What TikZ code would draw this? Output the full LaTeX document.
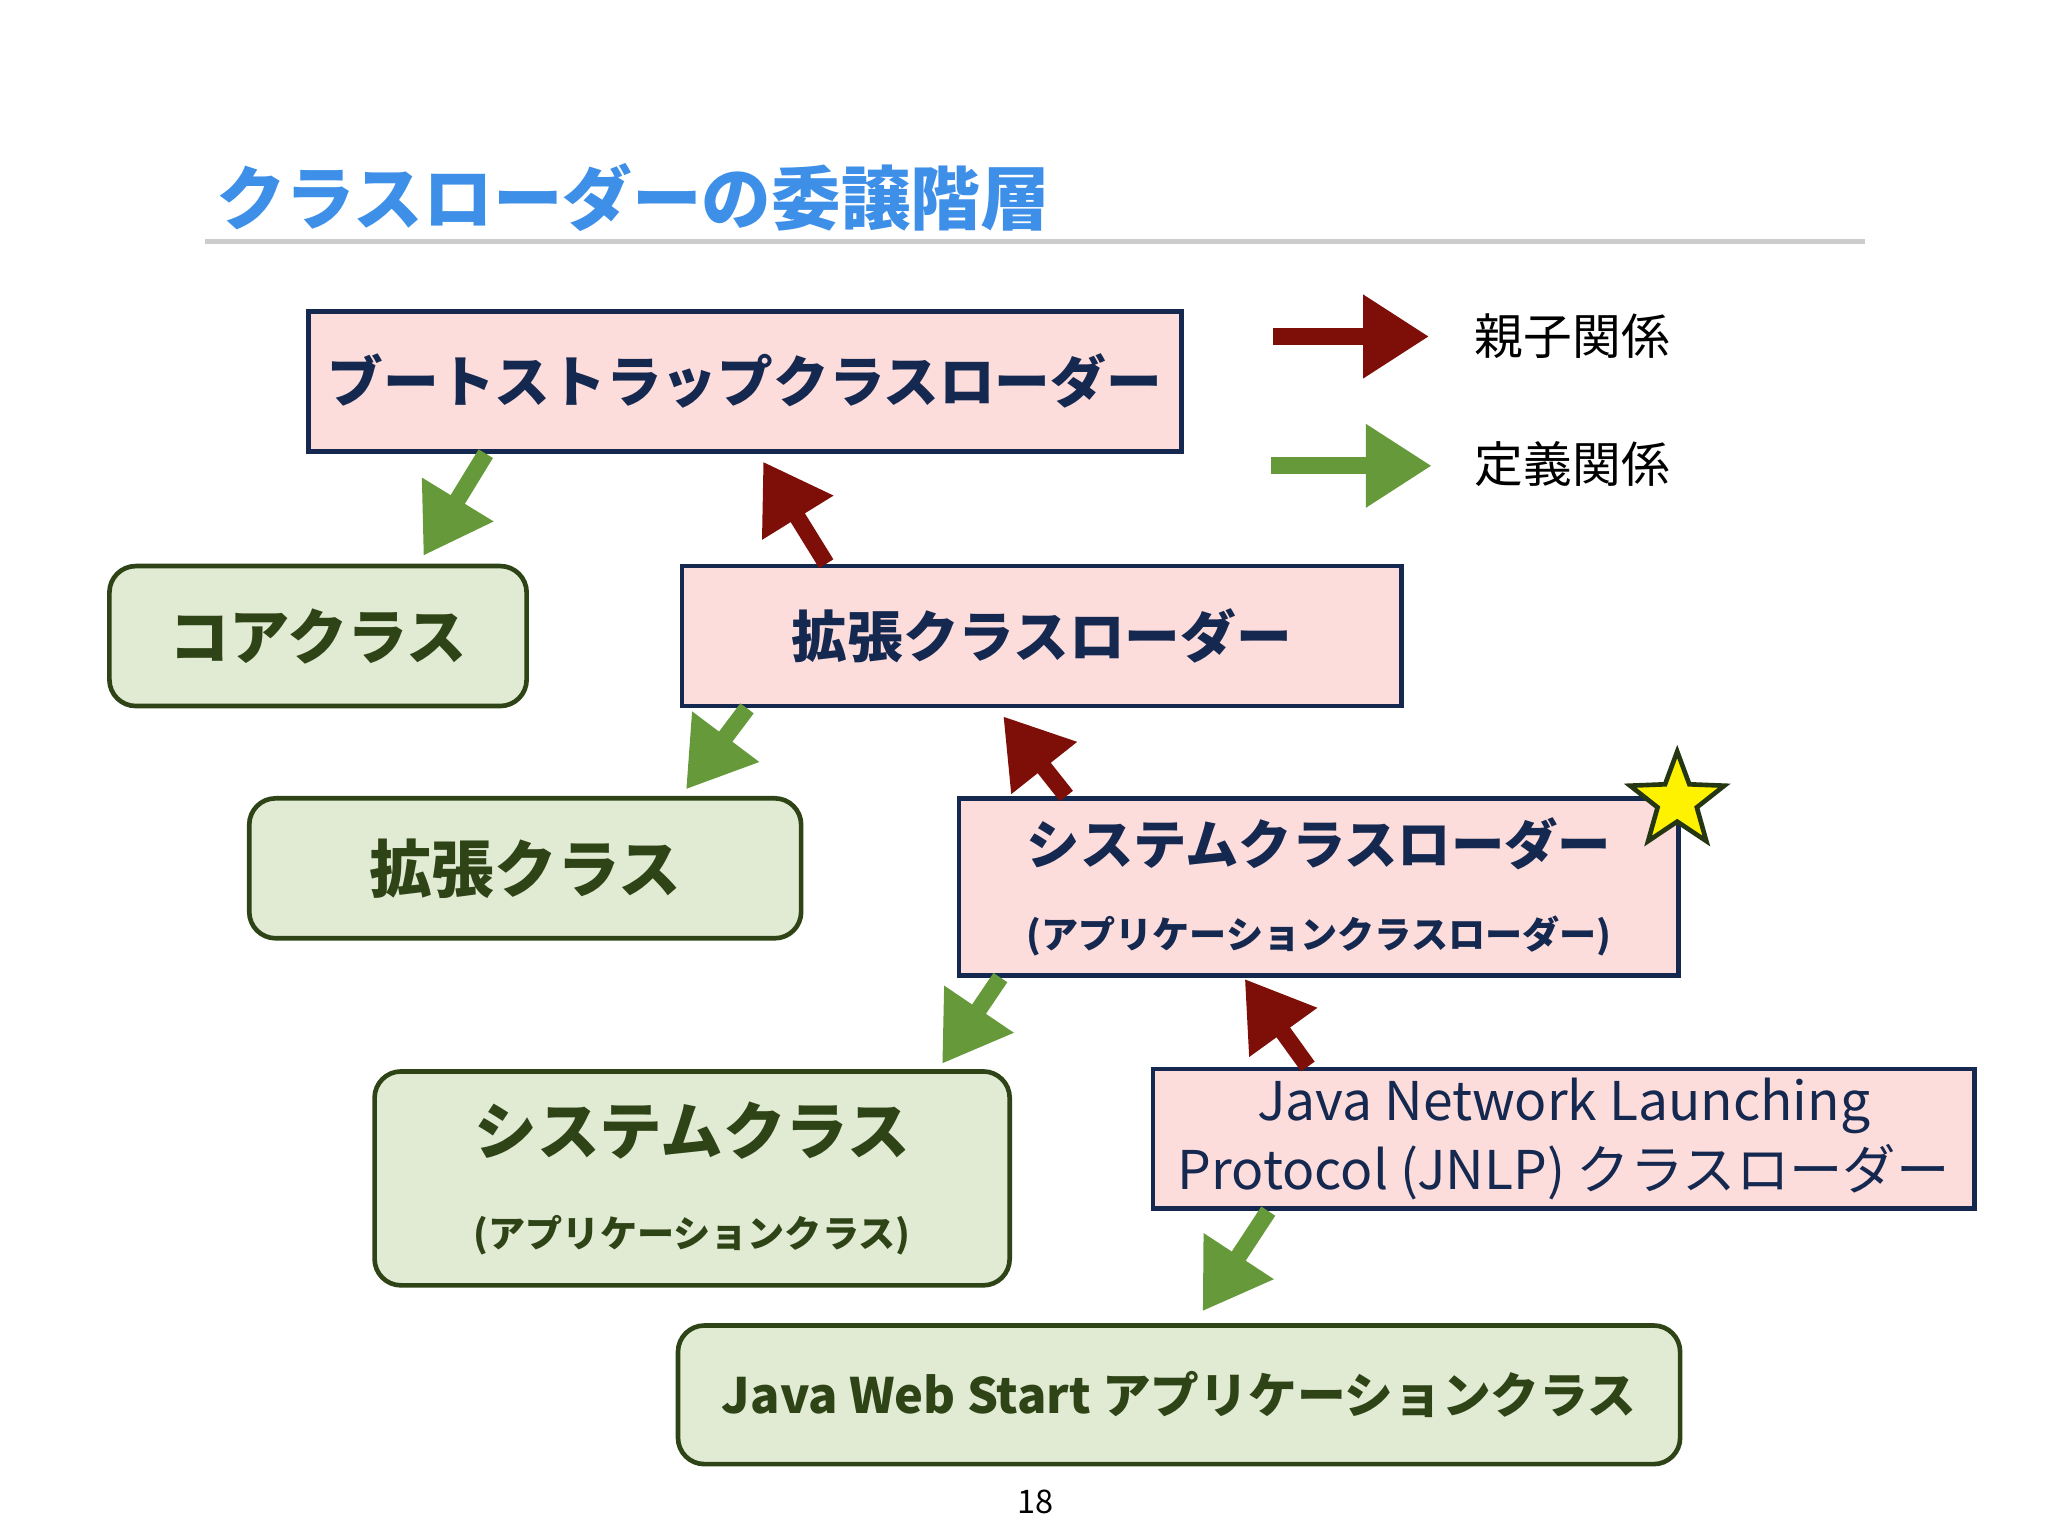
\documentclass[tikz,border=0pt]{standalone}
\usepackage{fontspec}
\setmainfont{Noto Sans CJK JP}
\usetikzlibrary{arrows.meta,shapes.geometric}
\definecolor{pinkfill}{HTML}{FDDCDC}
\definecolor{navy}{HTML}{142850}
\definecolor{greenfill}{HTML}{E1EBD4}
\definecolor{darkgreen}{HTML}{2E4416}
\definecolor{parentred}{HTML}{7E0E08}
\definecolor{defgreen}{HTML}{66993A}
\definecolor{titleblue}{HTML}{3D8FE8}
\tikzset{
  loader/.style={draw=navy,line width=1pt,fill=pinkfill,text=navy,font=\bfseries,align=center,inner sep=0pt},
  klass/.style={draw=darkgreen,line width=1pt,fill=greenfill,text=darkgreen,font=\bfseries,align=center,rounded corners=0.2cm,inner sep=0pt},
  parent/.style={parentred,line width=3.6pt,-{Triangle[length=0.5cm,width=0.6cm]}},
  define/.style={defgreen,line width=3.6pt,-{Triangle[length=0.5cm,width=0.6cm]}}
}
\begin{document}
\begin{tikzpicture}[x=0.01cm,y=-0.01cm]
\useasboundingbox (0,0) rectangle (1552,1164);
% title
\node (title) [anchor=west,text=titleblue,font=\fontsize{15}{17}\selectfont\bfseries,inner sep=0pt] at (163,150) {クラスローダーの委譲階層};
\draw[gray!40,line width=1pt] (155,183) -- (1413,183);
% loaders
\node (boot) [loader,minimum width=6.61cm,minimum height=1.06cm,font=\fontsize{12}{14}\selectfont\bfseries] at (564.5,289) {ブートストラップクラスローダー};
\node (extl) [loader,minimum width=5.45cm,minimum height=1.06cm,font=\fontsize{12}{14}\selectfont\bfseries] at (789.5,482) {拡張クラスローダー};
\node (sysl) [loader,minimum width=5.45cm,minimum height=1.34cm] at (999.5,672) {{\fontsize{11.5}{13}\selectfont システムクラスローダー}\\[6pt]{\fontsize{8}{10}\selectfont (アプリケーションクラスローダー)}};
\node (jnlp) [loader,minimum width=6.22cm,minimum height=1.06cm,font=\fontsize{11.5}{15}\selectfont\mdseries] at (1185,863) {Java Network Launching\\Protocol (JNLP) クラスローダー};
% classes
\node (core) [klass,minimum width=3.16cm,minimum height=1.06cm,font=\fontsize{13}{15}\selectfont\bfseries] at (241,482) {コアクラス};
\node (extc) [klass,minimum width=4.18cm,minimum height=1.06cm,font=\fontsize{13.5}{15}\selectfont\bfseries] at (398,658) {拡張クラス};
\node (sysc) [klass,minimum width=4.81cm,minimum height=1.62cm] at (524.5,893) {{\fontsize{13.5}{15}\selectfont システムクラス}\\[8pt]{\fontsize{8}{10}\selectfont (アプリケーションクラス)}};
\node (jws) [klass,minimum width=7.59cm,minimum height=1.05cm,font=\fontsize{10.5}{12}\selectfont\bfseries] at (893.5,1057) {Java Web Start アプリケーションクラス};
% star
\node (star) [star,star points=5,star point ratio=2.4,draw=darkgreen!80!black,fill=yellow,line width=1pt,minimum size=0.75cm,inner sep=0pt] at (1271,607) {};
% connectors
\draw[define] ([xshift=1.36cm]boot.south west) -- ([xshift=-0.80cm,yshift=0.06cm]core.north east);
\draw[parent] ([xshift=1.11cm]extl.north west) -- ([xshift=3.46cm,yshift=-0.06cm]boot.south west);
\draw[define] ([xshift=0.51cm]extl.south west) -- ([xshift=-0.89cm,yshift=0.05cm]extc.north east);
\draw[parent] ([xshift=0.83cm]sysl.north west) -- ([xshift=2.45cm,yshift=-0.06cm]extl.south west);
\draw[define] ([xshift=0.33cm]sysl.south west) -- ([xshift=-0.53cm,yshift=0.04cm]sysc.north east);
\draw[parent] ([xshift=1.19cm]jnlp.north west) -- ([xshift=2.18cm,yshift=-0.01cm]sysl.south west);
\draw[define] ([xshift=0.89cm]jnlp.south west) -- ([xshift=3.99cm,yshift=0.09cm]jws.north west);
% legend
\coordinate (pa) at (965,255); \coordinate (pb) at (1083,255);
\coordinate (da) at (963,353); \coordinate (db) at (1085,353);
\draw[parent] (pa) -- (pb);
\draw[define] (da) -- (db);
\node (lp) [anchor=west,font=\fontsize{10.5}{12}\selectfont,inner sep=0pt] at (1117,255) {親子関係};
\node (ld) [anchor=west,font=\fontsize{10.5}{12}\selectfont,inner sep=0pt] at (1117,352) {定義関係};
% page number
\node (page) [font=\fontsize{7}{8}\selectfont] at (785,1138) {18};
\end{tikzpicture}
\end{document}
